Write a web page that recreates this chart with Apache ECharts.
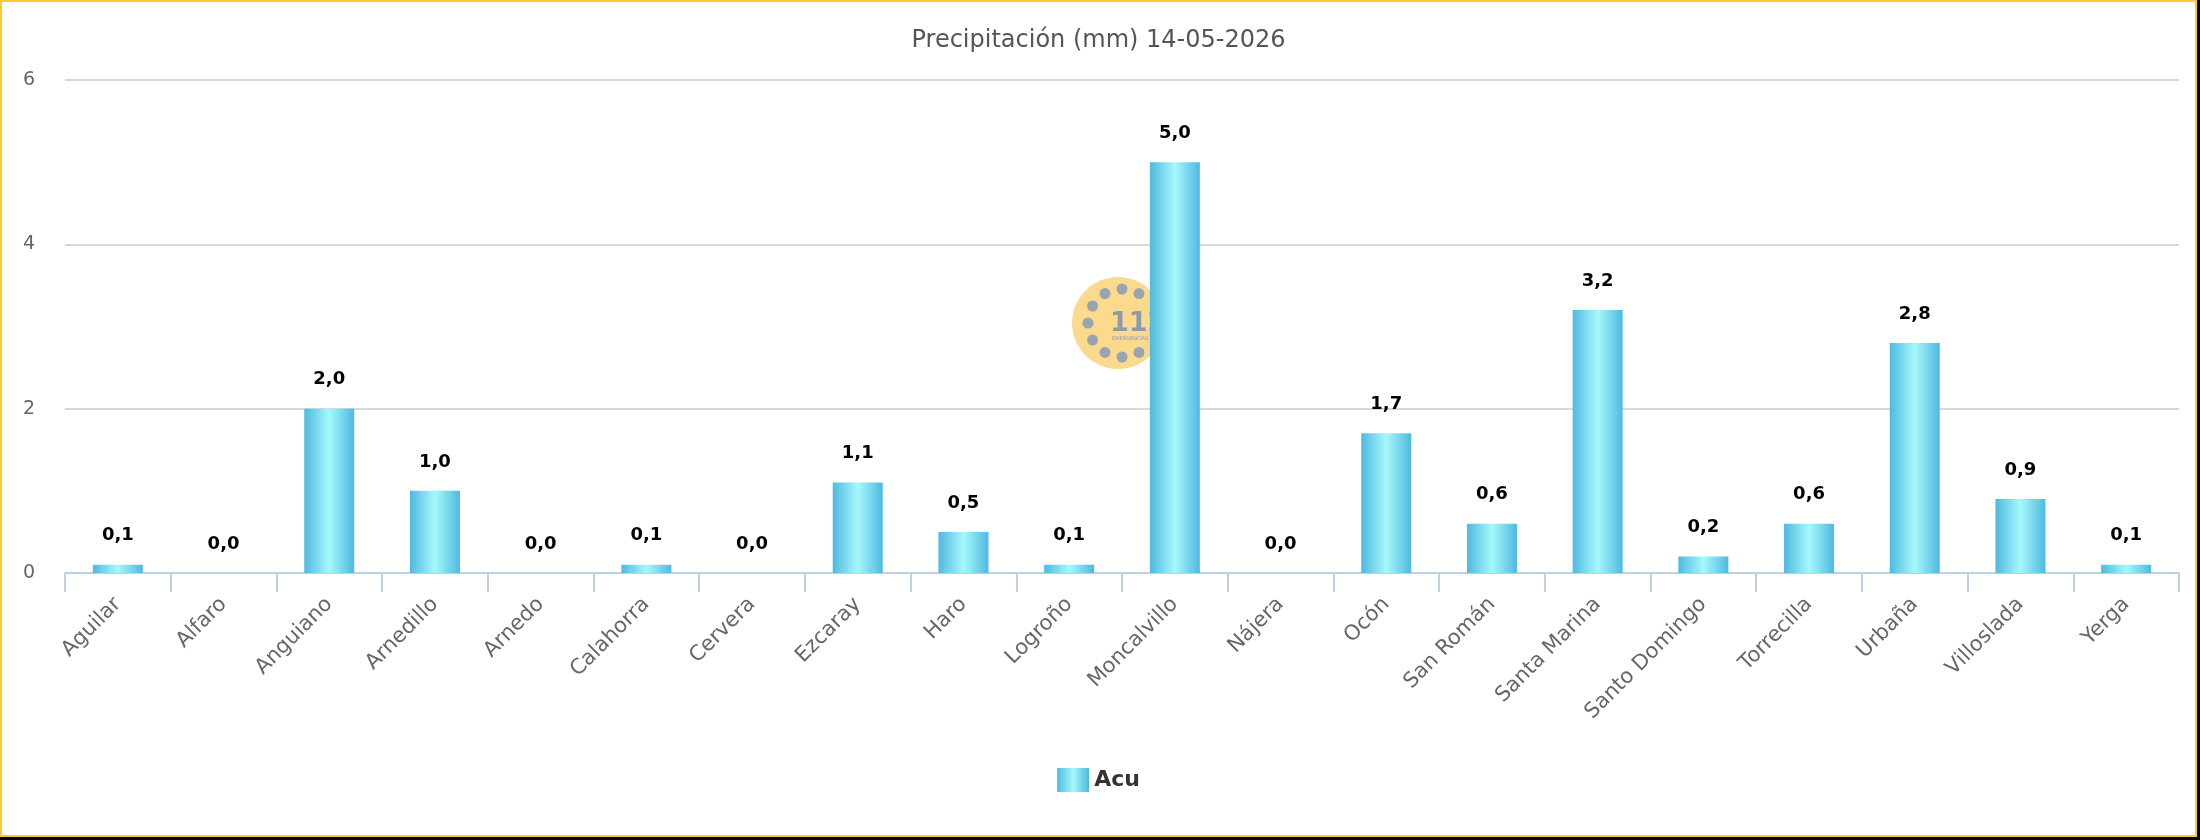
<!DOCTYPE html>
<html>
<head>
<meta charset="utf-8">
<script src="https://cdn.jsdelivr.net/npm/echarts@6/dist/echarts.min.js"></script>
<style>
  html, body { margin: 0; padding: 0; background: #000; }
  #frame { position: absolute; left: 0; top: 0; width: 2193px; height: 833px; border: 2px solid #FFC733; background: #fff; }
  #chart { width: 2193px; height: 833px; }
</style>
</head>
<body>
<div id="frame"><div id="chart"></div></div>
<script>
const titleText = 'Precipitación (mm) 14-05-2026';
const seriesName = 'Acu';
const categories = ['Aguilar', 'Alfaro', 'Anguiano', 'Arnedillo', 'Arnedo', 'Calahorra', 'Cervera', 'Ezcaray', 'Haro', 'Logroño', 'Moncalvillo', 'Nájera', 'Ocón', 'San Román', 'Santa Marina', 'Santo Domingo', 'Torrecilla', 'Urbaña', 'Villoslada', 'Yerga'];
const values = [0.1, 0.0, 2.0, 1.0, 0.0, 0.1, 0.0, 1.1, 0.5, 0.1, 5.0, 0.0, 1.7, 0.6, 3.2, 0.2, 0.6, 2.8, 0.9, 0.1];
const yTicks = [0, 2, 4, 6];

const barGradient = new echarts.graphic.LinearGradient(0, 0, 1, 0, [
  { offset: 0, color: '#4FB9E0' },
  { offset: 0.5, color: '#A6F8FB' },
  { offset: 1, color: '#4FB9E0' }
]);

const font = '"DejaVu Sans", "Lucida Grande", sans-serif';
const chart = echarts.init(document.getElementById('chart'), null, { renderer: 'canvas' });

// watermark (112 logo)
const wmCx = 1116, wmCy = 321;
const dots = [];
for (let a = 60; a <= 300; a += 30) {
  const r = a * Math.PI / 180;
  dots.push({ type: 'circle', shape: { cx: wmCx + 4 + 34 * Math.cos(r), cy: wmCy - 34 * Math.sin(r), r: 5.5 }, style: { fill: '#98A4B2' }, silent: true });
}

chart.setOption({
  animation: false,
  backgroundColor: '#ffffff',
  title: {
    text: titleText,
    left: 'center',
    top: 22,
    textStyle: { fontFamily: font, fontSize: 24, fontWeight: 'normal', color: '#555555' }
  },
  legend: {
    bottom: 38,
    left: 'center',
    itemWidth: 32,
    itemHeight: 24,
    itemGap: 10,
    icon: 'rect',
    textStyle: { fontFamily: font, fontSize: 22, fontWeight: 'bold', color: '#333333' },
    data: [seriesName]
  },
  graphic: [
    { type: 'circle', shape: { cx: wmCx, cy: wmCy, r: 46 }, style: { fill: '#FBDA8E' }, silent: true },
    ...dots,
    { type: 'text', x: wmCx - 8, y: wmCy - 13, style: { text: '112', fill: '#8E9BAA', font: 'bold 27px "DejaVu Sans"' }, silent: true },
    { type: 'text', x: wmCx - 6, y: wmCy + 13, style: { text: 'EMERGENCIAS', fill: '#8E9BAA', font: '5px "DejaVu Sans"' }, silent: true }
  ],
  grid: { left: 63, right: 16, top: 78, bottom: 262, containLabel: false },
  xAxis: {
    type: 'category',
    data: categories,
    axisLine: { lineStyle: { color: '#C0D0E0', width: 2 } },
    axisTick: { show: true, alignWithLabel: false, length: 19, lineStyle: { color: '#C0D0E0', width: 2 } },
    axisLabel: { rotate: 45, interval: 0, margin: 28, fontFamily: font, fontSize: 21, color: '#666666' }
  },
  yAxis: {
    type: 'value',
    min: 0,
    max: 6,
    interval: 2,
    axisLine: { show: false },
    axisTick: { show: false },
    splitLine: { lineStyle: { color: '#D8D8D8', width: 2 } },
    axisLabel: {
      margin: 30,
      fontFamily: font,
      fontSize: 19,
      color: '#666666',
      formatter: v => yTicks.includes(v) ? String(v) : ''
    }
  },
  series: [{
    name: seriesName,
    type: 'bar',
    data: values,
    barWidth: 50,
    itemStyle: { color: barGradient },
    label: {
      show: true,
      position: 'top',
      distance: 20,
      fontFamily: font,
      fontSize: 18,
      fontWeight: 'bold',
      color: '#000000',
      formatter: p => p.value.toFixed(1).replace('.', ',')
    }
  }]
});
</script>
</body>
</html>
